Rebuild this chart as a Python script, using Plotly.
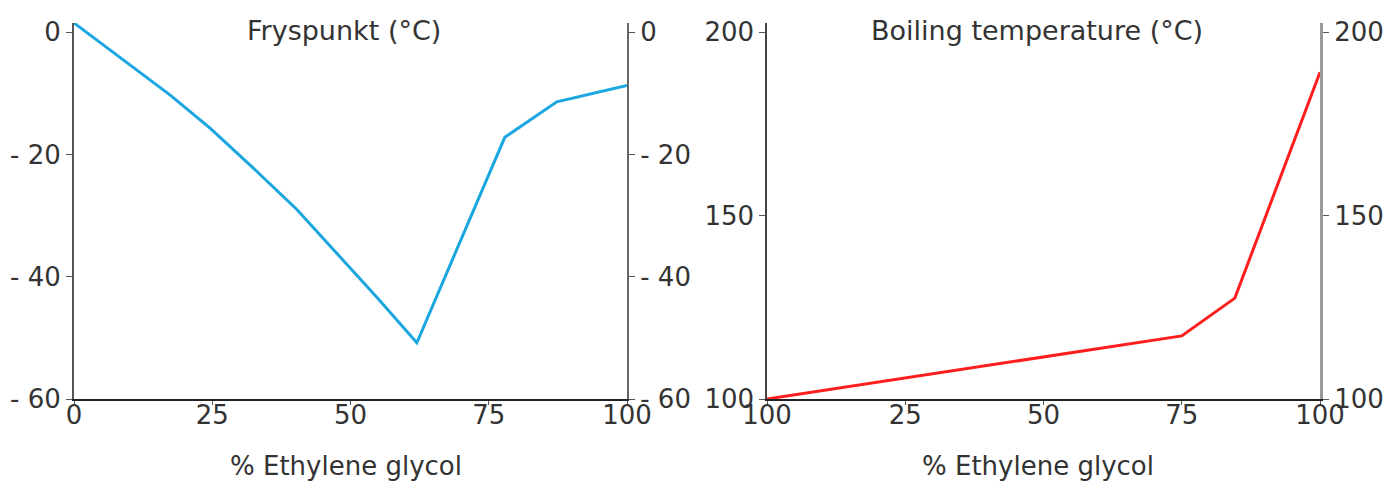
import plotly.graph_objects as go

# ---- data ----
freeze_pct = [0, 8.3, 17.4, 24.6, 31.8, 40.3, 47.6, 54.8, 62.0, 77.9, 87.3, 100]
freeze_temp = [1.5, -4.1, -10.3, -15.7, -21.7, -29.0, -36.2, -43.4, -50.8, -17.2, -11.4, -8.7]

boil_pct = [0, 75.0, 84.6, 100]
boil_temp = [100, 117.2, 127.5, 189.1]

x_tickvals = [0, 25, 50, 75, 100]
left_x_ticktext = ["0", "25", "50", "75", "100"]
right_x_ticktext = ["100", "25", "50", "75", "100"]
freeze_tickvals = [0, -20, -40, -60]
freeze_ticktext = ["0", "- 20", "- 40", "- 60"]
boil_tickvals = [100, 150, 200]
boil_ticktext = ["100", "150", "200"]

# page has an 8px body margin: figure is sized/placed to land on the window
OFF = 8
W, H = 1394 - OFF, 487 - OFF
FONT = "DejaVu Sans, sans-serif"
TXT = "#333333"


def px(x):
    return (x - OFF) / W


def py(y):
    return (H - (y - OFF)) / H


fig = go.Figure()
fig.add_trace(go.Scatter(x=freeze_pct, y=freeze_temp, mode="lines",
                         line=dict(color="#1BA6E0", width=3), xaxis="x", yaxis="y",
                         showlegend=False))
fig.add_trace(go.Scatter(x=freeze_pct, y=freeze_temp, mode="lines",
                         line=dict(color="rgba(0,0,0,0)", width=0), xaxis="x", yaxis="y3",
                         showlegend=False, hoverinfo="skip"))
fig.add_trace(go.Scatter(x=boil_pct, y=boil_temp, mode="lines",
                         line=dict(color="#FF1E1E", width=3), xaxis="x2", yaxis="y2",
                         showlegend=False))
fig.add_trace(go.Scatter(x=boil_pct, y=boil_temp, mode="lines",
                         line=dict(color="rgba(0,0,0,0)", width=0), xaxis="x2", yaxis="y4",
                         showlegend=False, hoverinfo="skip"))

ydom = [py(399), py(23)]
xdom1 = [px(74), px(627)]
xdom2 = [px(767), px(1320)]

tickfont = dict(family=FONT, size=26, color=TXT)


def xaxis(dom, ttext, anchor):
    return dict(domain=dom, range=[0, 100], tickvals=x_tickvals, ticktext=ttext,
                showgrid=False, zeroline=False, showline=True, linecolor="#222222",
                linewidth=1.5, ticks="outside", ticklen=4, tickcolor="#555555",
                tickfont=tickfont, anchor=anchor, fixedrange=True, automargin=False,
                ticklabelstandoff=-12)


def yaxis(dom, rng, tv, tt, side, lc, lw, anchor, overlay=None):
    d = dict(range=rng, tickvals=tv, ticktext=tt, showgrid=False, zeroline=False,
             showline=True, linecolor=lc, linewidth=lw, ticks="outside", ticklen=6,
             tickcolor="#555555", tickfont=tickfont, side=side, anchor=anchor,
             fixedrange=True, automargin=False)
    if overlay:
        d["overlaying"] = overlay
    else:
        d["domain"] = dom
    return d


frange = [-60, 1.5]
brange = [100, 202.5]

fig.update_layout(
    width=W, height=H,
    margin=dict(l=0, r=0, t=0, b=0, pad=0),
    paper_bgcolor="white", plot_bgcolor="white",
    xaxis=xaxis(xdom1, left_x_ticktext, "y"),
    xaxis2=xaxis(xdom2, right_x_ticktext, "y2"),
    yaxis=yaxis(ydom, frange, freeze_tickvals, freeze_ticktext, "left", "#555555", 2, "x"),
    yaxis3=yaxis(None, frange, freeze_tickvals, freeze_ticktext, "right", "#666666", 2, "x", overlay="y"),
    yaxis2=yaxis(ydom, brange, boil_tickvals, boil_ticktext, "left", "#444444", 1.5, "x2"),
    yaxis4=yaxis(None, brange, boil_tickvals, boil_ticktext, "right", "#999999", 3, "x2", overlay="y2"),
    showlegend=False,
)

titles = [
    ("Fryspunkt (°C)", 344),
    ("Boiling temperature (°C)", 1037),
]
for t, xc in titles:
    fig.add_annotation(text=t, x=px(xc), y=py(31), xref="paper", yref="paper",
                       showarrow=False, xanchor="center", yanchor="middle",
                       font=dict(family=FONT, size=27, color=TXT))
for xc in (346, 1038):
    fig.add_annotation(text="% Ethylene glycol", x=px(xc), y=py(466), xref="paper",
                       yref="paper", showarrow=False, xanchor="center", yanchor="middle",
                       font=dict(family=FONT, size=26, color=TXT))

fig.write_html("out.html")
